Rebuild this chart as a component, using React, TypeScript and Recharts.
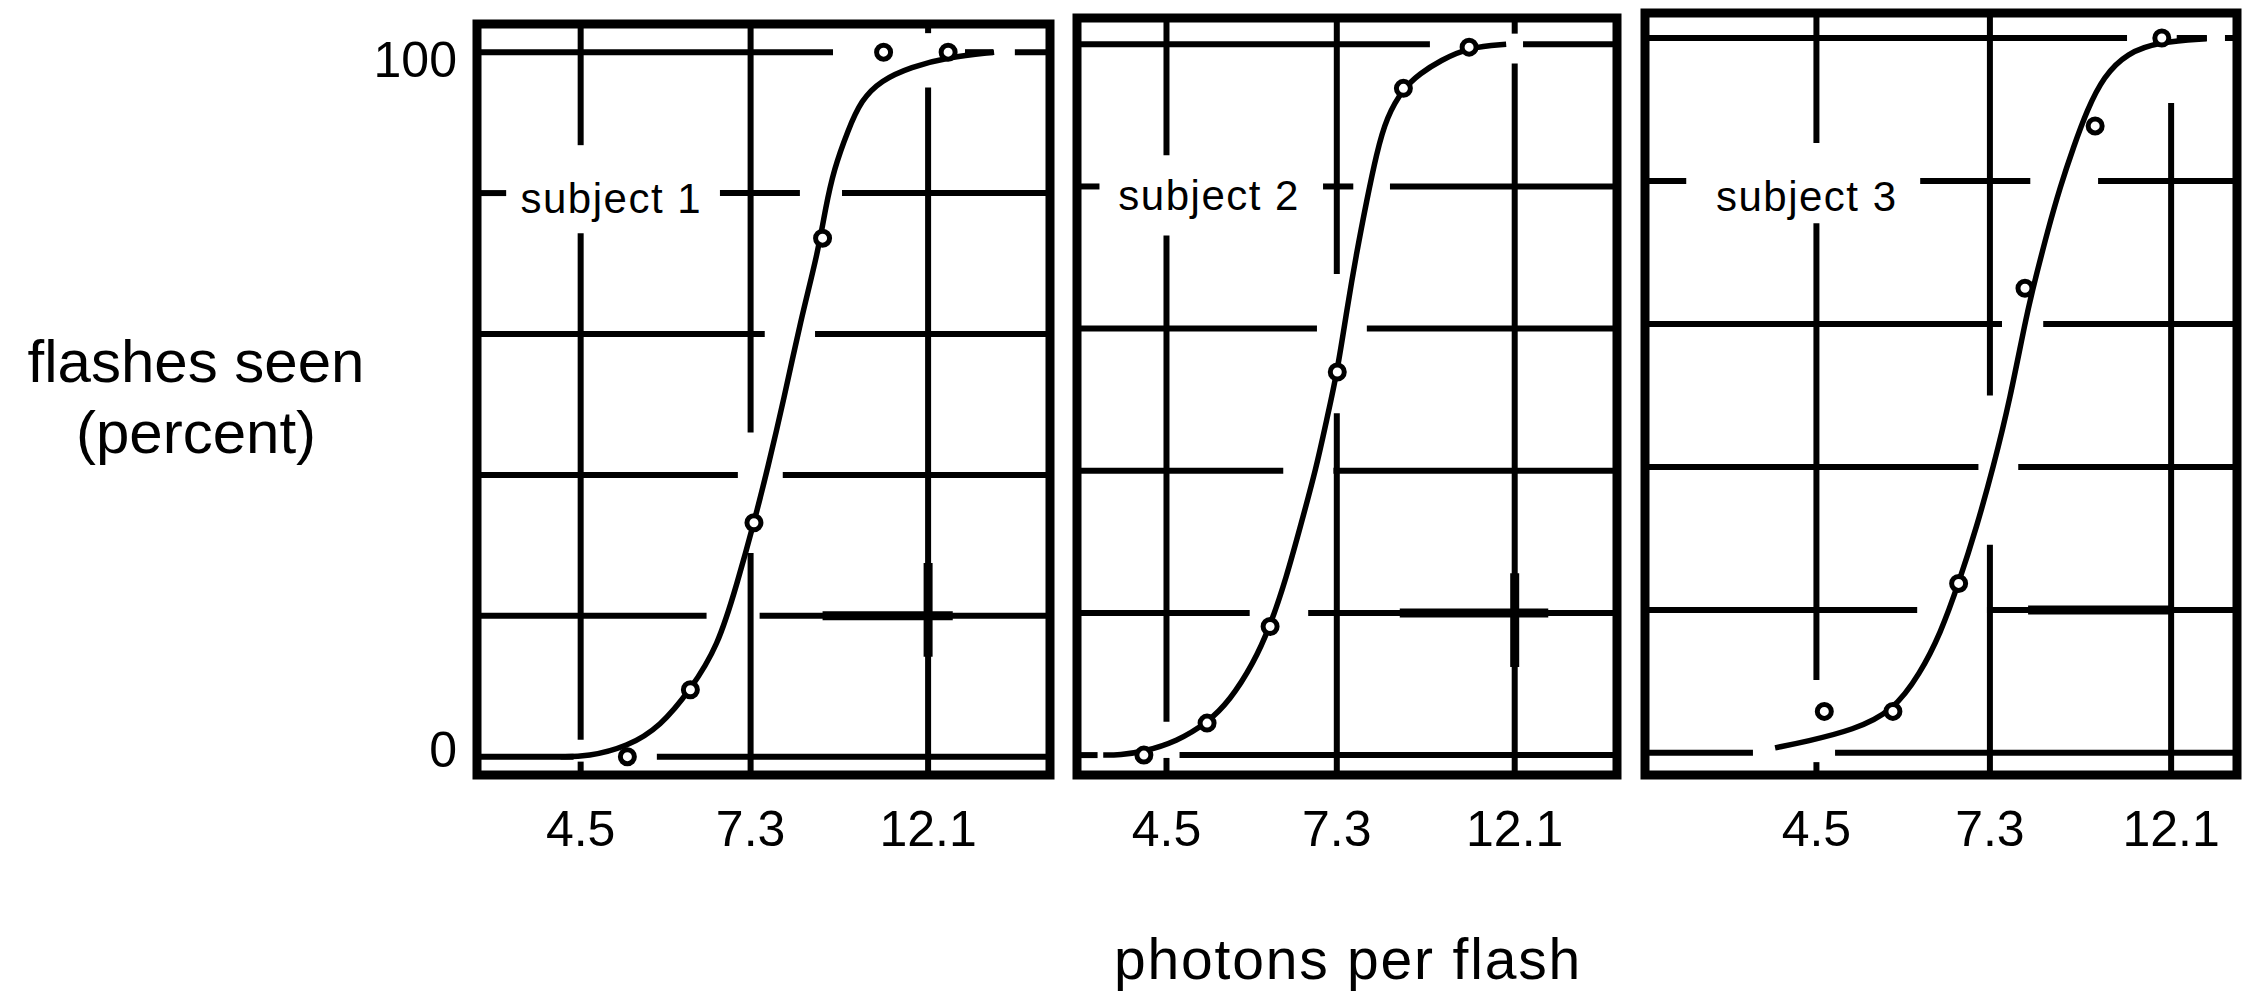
import React from "react";
import {
  ComposedChart,
  Line,
  ReferenceArea,
  ReferenceDot,
  ReferenceLine,
  Scatter,
  XAxis,
  YAxis,
} from "recharts";

// x: photons per flash (log axis), y: flashes seen in percent
const photonTicks = [4.5, 7.3, 12.1];
const percentTicks = [0, 100];
const subjectNames = ["subject 1", "subject 2", "subject 3"];

const s1PointX = [5.14, 6.15, 7.37, 8.96, 10.66, 12.81];
const s1PointY = [0, 9.5, 33.2, 73.6, 100, 100];
const s1CurveX = [4.25, 4.59, 5.14, 5.65, 6.15, 6.65, 7.03, 7.37, 7.67, 8.02, 8.42, 8.84, 9.04, 9.25, 9.63, 10.0, 10.58, 11.52, 12.8, 14.6];
const s1CurveY = [0, 0, 1.4, 4.3, 9.5, 15.6, 24.7, 33.2, 41.1, 50.6, 62.0, 71.5, 78.0, 83.3, 88.9, 93.2, 96.0, 97.9, 99.3, 100];

const s2PointX = [4.22, 5.05, 6.04, 7.31, 8.82, 10.63];
const s2PointY = [0, 4.5, 18.1, 53.9, 93.8, 99.6];
const s2CurveX = [3.76, 3.94, 4.22, 4.63, 5.05, 5.39, 5.76, 6.04, 6.33, 6.58, 6.89, 7.09, 7.31, 7.51, 7.72, 7.95, 8.17, 8.41, 8.82, 9.25, 9.79, 10.63, 11.81];
const s2CurveY = [0, 0, 0.5, 1.9, 4.5, 7.7, 12.9, 18.1, 25.1, 32.1, 40.5, 47.1, 53.9, 62.6, 70.6, 78.1, 84.6, 89.8, 93.8, 95.9, 97.7, 99.6, 100];

const s3PointX = [4.6, 5.57, 6.69, 8.05, 9.79, 11.79];
const s3PointY = [5.8, 5.8, 23.7, 65.0, 87.7, 100];
const s3CurveX = [4.01, 4.38, 4.99, 5.57, 6.01, 6.36, 6.69, 7.04, 7.37, 7.72, 8.09, 8.32, 8.56, 8.88, 9.22, 9.57, 10.02, 10.69, 11.73, 13.36];
const s3CurveY = [0.7, 1.6, 3.2, 5.8, 11.1, 16.7, 23.7, 31.7, 40.0, 49.4, 61.5, 67.1, 72.7, 79.2, 84.8, 89.9, 94.6, 97.9, 99.5, 99.9];

const FONT = '"Liberation Sans", Arial, Helvetica, sans-serif';
const CHART_H = 871;

// the scanned grid is broken around labels and curves: [at, from, to],
// null = edge of the box (from -> low end, to -> high end)
type Seg = [number, number | null, number | null];

const panels = [
  {
    name: subjectNames[0],
    pointX: s1PointX, pointY: s1PointY, curveX: s1CurveX, curveY: s1CurveY,
    xDomain: [3.35, 17.12], yDomain: [-2.6, 104.0],
    left: 357, top: 4, width: 703, marginTop: 20, marginLeft: 0, showY: true,
    label: [4.91, 79.3],
    hGrid: [
      [100, null, 9.23], [100, 13.44, 14.56], [100, 15.49, null],
      [80, null, 3.64], [80, 6.69, 8.4], [80, 9.47, null],
      [60, null, 7.6], [60, 8.77, null],
      [40, null, 7.04], [40, 8.0, null],
      [20, null, 6.44], [20, 7.49, null],
      [0, null, 4.41], [0, 5.59, null],
    ] as Seg[],
    vGrid: [
      [4.5, 86.8, null], [4.5, 2.4, 74.3], [4.5, null, -0.7],
      [7.3, 46.0, null], [7.3, null, 28.9],
      [12.1, 102.7, null], [12.1, null, 95.0],
    ] as Seg[],
    heavyH: [[20, 8.96, 12.98]] as Seg[],
    heavyV: [[12.1, 14.2, 27.5]] as Seg[],
  },
  {
    name: subjectNames[1],
    pointX: s2PointX, pointY: s2PointY, curveX: s2CurveX, curveY: s2CurveY,
    xDomain: [3.49, 16.18], yDomain: [-2.8, 103.7],
    left: 1067, top: 4, width: 560, marginTop: 14, marginLeft: 10, showY: false,
    label: [5.08, 78.8],
    hGrid: [
      [100, null, 9.51], [100, 12.39, null],
      [80, null, 3.72], [80, 7.02, 7.65], [80, 8.49, null],
      [60, null, 6.9], [60, 7.95, null],
      [40, null, 6.27], [40, 7.23, null],
      [20, null, 5.7], [20, 6.73, null],
      [0, null, 3.7], [0, 4.67, null],
    ] as Seg[],
    vGrid: [
      [4.5, 84.4, null], [4.5, 4.7, 73.1], [4.5, null, -0.4],
      [7.3, 67.7, null], [7.3, null, 48.1],
      [12.1, 101.5, null], [12.1, null, 97.3],
    ] as Seg[],
    heavyH: [[20, 8.73, 13.31]] as Seg[],
    heavyV: [[12.1, 12.4, 25.6]] as Seg[],
  },
  {
    name: subjectNames[2],
    pointX: s3PointX, pointY: s3PointY, curveX: s3CurveX, curveY: s3CurveY,
    xDomain: [2.79, 14.54], yDomain: [-3.1, 103.5],
    left: 1635, top: 4, width: 612, marginTop: 9, marginLeft: 10, showY: false,
    label: [4.38, 77.9],
    hGrid: [
      [100, null, 10.7], [100, 12.29, 13.37], [100, 14.06, null],
      [80, null, 3.13], [80, 6.01, 8.17], [80, 9.87, null],
      [60, null, 7.55], [60, 8.47, null],
      [40, null, 7.07], [40, 7.9, null],
      [20, null, 5.96], [20, 7.24, null],
      [0, null, 3.77], [0, 4.74, null],
    ] as Seg[],
    vGrid: [
      [4.5, 85.3, null], [4.5, 10.2, 74.1], [4.5, null, -1.3],
      [7.3, 50.0, null], [7.3, null, 29.1],
      [12.1, null, 90.9],
    ] as Seg[],
    heavyH: [[20, 8.12, 12.16]] as Seg[],
    heavyV: [] as Seg[],
  },
];

type PanelCfg = (typeof panels)[number];

function Panel({ cfg }: { cfg: PanelCfg }) {
  const curve = cfg.curveX.map((x, i) => ({ x, y: cfg.curveY[i] }));
  const points = cfg.pointX.map((x, i) => ({ x, y: cfg.pointY[i] }));
  const [x0, x1] = cfg.xDomain;
  const [y0, y1] = cfg.yDomain;

  const hSeg = (s: Seg, w: number, key: string) => (
    <ReferenceLine
      key={key}
      segment={[
        { x: s[1] ?? x0, y: s[0] },
        { x: s[2] ?? x1, y: s[0] },
      ]}
      stroke="#000"
      strokeWidth={w}
      ifOverflow="visible"
    />
  );
  const vSeg = (s: Seg, w: number, key: string) => (
    <ReferenceLine
      key={key}
      segment={[
        { x: s[0], y: s[1] ?? y0 },
        { x: s[0], y: s[2] ?? y1 },
      ]}
      stroke="#000"
      strokeWidth={w}
      ifOverflow="visible"
    />
  );

  return (
    <div style={{ position: "absolute", left: cfg.left, top: cfg.top }}>
      <ComposedChart
        width={cfg.width}
        height={CHART_H}
        margin={{ top: cfg.marginTop, right: 10, left: cfg.marginLeft, bottom: 0 }}
      >
        <XAxis
          dataKey="x"
          type="number"
          scale="log"
          domain={cfg.xDomain}
          allowDataOverflow
          ticks={photonTicks}
          interval={0}
          axisLine={false}
          tickLine={false}
          tickSize={0}
          tickMargin={0}
          height={100}
          tick={(p: any) => (
            <text
              x={p.x}
              y={p.y + 71}
              textAnchor="middle"
              fontFamily={FONT}
              fontSize={50}
              fill="#000"
            >
              {String(p.payload.value)}
            </text>
          )}
        />
        <YAxis
          dataKey="y"
          type="number"
          domain={cfg.yDomain}
          allowDataOverflow
          ticks={percentTicks}
          interval={0}
          hide={!cfg.showY}
          width={120}
          axisLine={false}
          tickLine={false}
          tickSize={0}
          tickMargin={0}
          tick={(p: any) => (
            // labels in the original sit a little inside the end gridlines
            <text
              x={p.x - 20}
              y={p.y + 18 + (p.payload.value > 50 ? 7 : -8)}
              textAnchor="end"
              fontFamily={FONT}
              fontSize={50}
              fill="#000"
            >
              {String(p.payload.value)}
            </text>
          )}
        />

        {cfg.hGrid.map((s, i) => hSeg(s, 6, `h${i}`))}
        {cfg.vGrid.map((s, i) => vSeg(s, 6, `v${i}`))}
        {cfg.heavyH.map((s, i) => hSeg(s, 9, `hh${i}`))}
        {cfg.heavyV.map((s, i) => vSeg(s, 9, `hv${i}`))}

        <ReferenceArea
          x1={x0}
          x2={x1}
          y1={y0}
          y2={y1}
          fill="none"
          stroke="#000"
          strokeWidth={9}
          ifOverflow="visible"
        />

        <ReferenceDot
          x={cfg.label[0]}
          y={cfg.label[1]}
          r={0}
          ifOverflow="visible"
          shape={(p: any) => (
            <text
              x={p.cx}
              y={p.cy + 15}
              textAnchor="middle"
              fontFamily={FONT}
              fontSize={42}
              letterSpacing={1.5}
              fill="#000"
            >
              {cfg.name}
            </text>
          )}
        />

        <Line
          data={curve}
          dataKey="y"
          type="basis"
          stroke="#000"
          strokeWidth={5.5}
          dot={false}
          activeDot={false}
          isAnimationActive={false}
        />
        <Scatter
          data={points}
          dataKey="y"
          isAnimationActive={false}
          shape={(p: any) => (
            <circle cx={p.cx} cy={p.cy} r={7} fill="#fff" stroke="#000" strokeWidth={5} />
          )}
        />
      </ComposedChart>
    </div>
  );
}

export default function App() {
  return (
    <div
      style={{
        position: "absolute",
        left: 0,
        top: 0,
        width: 2255,
        height: 998,
        background: "#fff",
        overflow: "hidden",
        fontFamily: FONT,
        color: "#000",
      }}
    >
      <div
        style={{
          position: "absolute",
          left: -54,
          top: 326,
          width: 500,
          textAlign: "center",
          fontSize: 60,
          lineHeight: "71px",
        }}
      >
        flashes seen
        <br />
        (percent)
      </div>
      {panels.map((cfg) => (
        <Panel key={cfg.name} cfg={cfg} />
      ))}
      <div
        style={{
          position: "absolute",
          left: 948,
          top: 924,
          width: 800,
          textAlign: "center",
          fontSize: 57,
          letterSpacing: 1.8,
          lineHeight: "71px",
        }}
      >
        photons per flash
      </div>
    </div>
  );
}
